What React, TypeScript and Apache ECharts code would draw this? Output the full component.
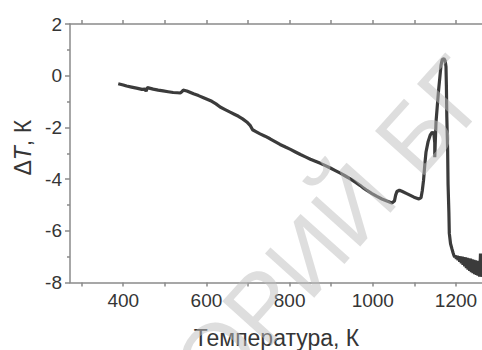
import React, { useEffect, useRef } from "react";
import * as echarts from "echarts";

const temperature = [
  388, 400, 408, 420, 432, 445, 452, 455, 458, 465, 472, 484, 496, 508, 520, 530, 537, 541, 544, 553,
  569, 581, 593, 603, 613, 623, 633, 645, 657, 667, 677, 687, 697, 705, 711, 720, 729, 741, 753, 765,
  777, 790, 802, 814, 826, 838, 850, 862, 874, 886, 898, 910, 922, 934, 946, 958, 970, 978, 986, 998,
  1010, 1022, 1034, 1046, 1052, 1055, 1058, 1064, 1070, 1083, 1099, 1111, 1116, 1119, 1122, 1125, 1128,
  1133, 1138, 1143, 1147, 1149, 1149, 1150, 1152, 1155, 1158, 1161, 1164, 1167, 1171, 1174, 1176, 1177,
  1178, 1180, 1181, 1183, 1184, 1187, 1190, 1193, 1195, 1197, 1199, 1201, 1203, 1205, 1207, 1209, 1211,
  1213, 1215, 1217, 1219, 1221, 1223, 1225, 1227, 1229, 1231, 1233, 1235, 1237, 1239, 1241, 1243, 1245,
  1247, 1249, 1251, 1253, 1255, 1257, 1259, 1260, 1262,
];
const deltaT = [
  -0.31, -0.36, -0.4, -0.44, -0.48, -0.53, -0.52, -0.6, -0.46, -0.49, -0.52, -0.56, -0.59, -0.62, -0.65,
  -0.66, -0.67, -0.62, -0.56, -0.59, -0.7, -0.77, -0.85, -0.92, -0.99, -1.09, -1.21, -1.31, -1.41, -1.49,
  -1.57, -1.67, -1.79, -1.92, -2.09, -2.17, -2.25, -2.34, -2.44, -2.55, -2.66, -2.76, -2.85, -2.95, -3.05,
  -3.14, -3.23, -3.31, -3.39, -3.48, -3.57, -3.67, -3.77, -3.88, -3.99, -4.12, -4.25, -4.35, -4.44, -4.56,
  -4.67, -4.77, -4.85, -4.92, -4.85, -4.62, -4.48, -4.43, -4.47, -4.57, -4.7, -4.77, -4.72, -4.45, -4.05,
  -3.45, -2.95, -2.55, -2.3, -2.18, -2.25, -2.6, -3.15, -2.7, -1.8, -1.2, -0.6, -0.1, 0.4, 0.62, 0.66,
  0.58, 0.35, -0.4, -1.6, -2.9, -4.2, -5.3, -6.1, -6.5, -6.68, -6.85, -6.95, -7.02, -6.96, -7.08, -6.97,
  -7.14, -6.98, -7.2, -6.99, -7.26, -7.0, -7.32, -7.02, -7.38, -7.03, -7.44, -7.05, -7.5, -7.07, -7.55,
  -7.08, -7.6, -7.1, -7.64, -7.12, -7.68, -7.14, -7.71, -7.16, -7.74, -7.2, -7.77, -6.88, -7.78, -7.5,
];

const xMajorTicks = [400, 600, 800, 1000, 1200];
const xAllTicks = [300, 400, 500, 600, 700, 800, 900, 1000, 1100, 1200];
const xTitle = "Температура, К";
const yTitle = "{a|Δ}{i|T}{a|, К}";
const watermark = "ТОРИЙ БГ";

const FONT = "'Liberation Sans', Arial, Helvetica, sans-serif";
const AXIS = "#8a8a8a";
const TEXT = "#353535";

export default function App() {
  const ref = useRef<HTMLDivElement>(null);
  useEffect(() => {
    if (!ref.current) return;
    const chart = echarts.init(ref.current, undefined, { renderer: "svg" });
    const data = temperature.map((t, i) => [t, deltaT[i]]);
    const xMin = 272;
    const xMax = 1265;
    const lineStyle = { color: AXIS, width: 1.5 };
    const fmt = (v: number) => String(v);
    chart.setOption({
      animation: false,
      grid: {
        left: 70,
        right: -1,
        top: 24,
        bottom: 67.5,
        containLabel: false,
        outerBoundsMode: "none",
        show: false,
      },
      xAxis: [
        {
          type: "value",
          min: xMin,
          max: xMax,
          position: "bottom",
          axisLine: { show: true, onZero: false, lineStyle },
          axisTick: { show: true, customValues: xAllTicks, length: 4, inside: false, lineStyle },
          axisLabel: {
            show: true,
            customValues: xMajorTicks,
            formatter: fmt,
            fontSize: 19,
            color: TEXT,
            margin: 8,
            fontFamily: FONT,
          },
          splitLine: { show: false },
          name: xTitle,
          nameLocation: "middle",
          nameGap: 44,
          nameTextStyle: { fontSize: 23, color: TEXT, fontFamily: FONT },
        },
        {
          type: "value",
          min: xMin,
          max: xMax,
          position: "top",
          axisLine: { show: true, onZero: false, lineStyle },
          axisTick: { show: true, customValues: xAllTicks, length: 4, inside: false, lineStyle },
          axisLabel: { show: false },
          splitLine: { show: false },
        },
      ],
      yAxis: [
        {
          type: "value",
          min: -8,
          max: 2,
          interval: 2,
          axisLine: { show: true, onZero: false, lineStyle },
          axisTick: { show: true, length: 5, inside: false, lineStyle },
          minorTick: { show: true, splitNumber: 2, length: 3, lineStyle },
          axisLabel: { fontSize: 19, color: TEXT, margin: 8, fontFamily: FONT, formatter: fmt },
          splitLine: { show: false },
          minorSplitLine: { show: false },
          name: yTitle,
          nameLocation: "middle",
          nameRotate: 90,
          nameGap: 29,
          nameTextStyle: {
            padding: [0, 0, 0, 11],
            rich: {
              a: { fontSize: 23, color: TEXT, fontFamily: FONT },
              i: { fontSize: 23, color: TEXT, fontFamily: FONT, fontStyle: "italic" },
            },
          },
        },
      ],
      series: [
        {
          type: "line",
          xAxisIndex: 0,
          yAxisIndex: 0,
          data,
          showSymbol: false,
          symbol: "none",
          smooth: false,
          lineStyle: { color: "#3b3b3b", width: 3.2 },
          z: 2,
        },
      ],
      graphic: [
        {
          type: "text",
          x: 313,
          y: 249,
          rotation: 0.84,
          z: 100,
          silent: true,
          style: {
            text: watermark,
            fontSize: 96,
            fontFamily: FONT,
            fill: "rgba(190,190,190,0.5)",
            align: "center",
            verticalAlign: "middle",
          },
        },
      ],
    });
    return () => chart.dispose();
  }, []);
  return (
    <div
      ref={ref}
      style={{ position: "absolute", left: 0, top: 0, width: 482, height: 350, background: "#fff" }}
    />
  );
}
